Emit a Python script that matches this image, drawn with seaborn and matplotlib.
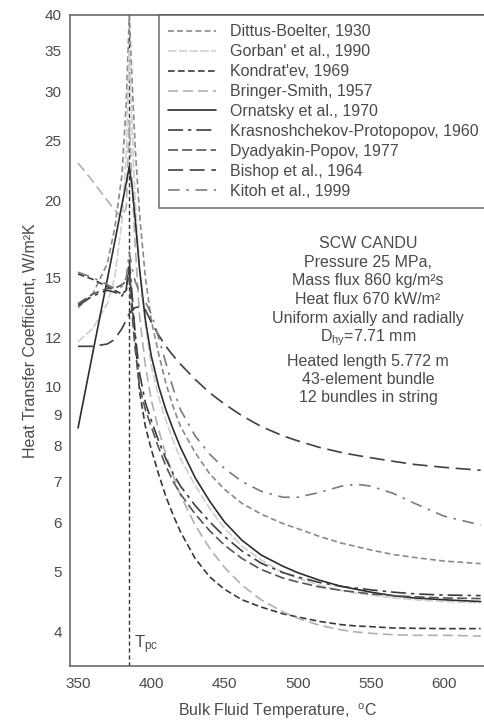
import pandas as pd
import matplotlib
matplotlib.use("Agg")
import matplotlib.pyplot as plt
import seaborn as sns

# Bulk fluid temperature, degC
temperature = [350, 360, 370, 375, 380, 383, 385, 387, 389, 392, 396,
               400, 405, 410, 415, 420, 430, 440, 450, 462, 475,
               490, 500, 515, 530, 540, 550, 565, 580, 600, 625]

# Heat transfer coefficient, kW/m2K, per correlation
dittus_boelter = [13.4, 14.1, 15.8, 18.0, 22.0, 29.0, 40.0, 31.0, 24.5, 19.0, 15.0,
                  12.8, 11.3, 10.1, 9.25, 8.6, 7.8, 7.2, 6.8, 6.45, 6.2,
                  5.98, 5.87, 5.7, 5.56, 5.49, 5.42, 5.33, 5.27, 5.2, 5.15]
gorban = [11.8, 12.4, 13.6, 15.0, 18.5, 24.0, 35.0, 26.0, 20.0, 15.5, 12.6,
          10.8, 9.6, 8.8, 8.15, 7.62, 6.9, 6.32, 5.88, 5.5, 5.22,
          4.98, 4.88, 4.75, 4.66, 4.61, 4.58, 4.53, 4.5, 4.47, 4.45]
kondratev = [15.2, 14.9, 14.5, 14.3, 14.1, 14.3, 15.5, 13.5, 12.0, 9.8, 8.6,
             7.9, 7.2, 6.62, 6.17, 5.8, 5.25, 4.9, 4.68, 4.5, 4.38,
             4.27, 4.22, 4.15, 4.1, 4.08, 4.07, 4.05, 4.045, 4.04, 4.04]
bringer_smith = [23.0, 21.5, 20.0, 19.3, 18.8, 19.5, 27.0, 21.0, 17.0, 13.0, 10.8,
                 9.5, 8.5, 7.75, 7.15, 6.65, 5.95, 5.45, 5.08, 4.75, 4.5,
                 4.3, 4.2, 4.09, 4.02, 3.99, 3.97, 3.95, 3.94, 3.94, 3.93]
ornatsky = [8.55, 11.3, 14.9, 17.1, 19.7, 21.4, 22.7, 21.0, 18.7, 15.5, 12.8,
            11.2, 10.0, 9.15, 8.5, 7.95, 7.1, 6.5, 6.02, 5.62, 5.32,
            5.1, 4.98, 4.84, 4.73, 4.68, 4.63, 4.57, 4.53, 4.5, 4.47]
krasnoshchekov = [13.5, 14.0, 14.3, 14.2, 14.0, 14.4, 16.0, 14.0, 12.2, 10.5, 9.4,
                  8.8, 8.15, 7.62, 7.2, 6.88, 6.4, 6.02, 5.7, 5.4, 5.16,
                  4.98, 4.9, 4.8, 4.73, 4.7, 4.67, 4.63, 4.6, 4.58, 4.57]
dyadyakin = [13.6, 14.1, 14.4, 14.4, 14.6, 14.8, 15.0, 13.0, 11.5, 10.0, 9.15,
             8.6, 7.95, 7.42, 7.0, 6.68, 6.2, 5.82, 5.52, 5.25, 5.04,
             4.88, 4.81, 4.72, 4.66, 4.63, 4.6, 4.57, 4.55, 4.53, 4.52]
bishop = [11.6, 11.6, 11.7, 11.9, 12.4, 12.8, 13.1, 13.3, 13.4, 13.45, 13.3,
          12.7, 12.1, 11.6, 11.2, 10.85, 10.25, 9.75, 9.35, 8.95, 8.6,
          8.3, 8.15, 7.95, 7.8, 7.72, 7.65, 7.55, 7.46, 7.38, 7.3]
kitoh = [15.3, 15.0, 14.6, 14.4, 14.5, 15.0, 16.5, 15.5, 14.8, 14.2, 13.7,
         13.1, 12.0, 10.9, 9.9, 9.15, 8.3, 7.75, 7.35, 7.0, 6.75,
         6.6, 6.6, 6.72, 6.88, 6.93, 6.88, 6.7, 6.45, 6.15, 5.95]

labels = ["Dittus-Boelter, 1930", "Gorban' et al., 1990", "Kondrat'ev, 1969",
          "Bringer-Smith, 1957", "Ornatsky et al., 1970",
          "Krasnoshchekov-Protopopov, 1960", "Dyadyakin-Popov, 1977",
          "Bishop et al., 1964", "Kitoh et al., 1999"]
series = [dittus_boelter, gorban, kondratev, bringer_smith, ornatsky,
          krasnoshchekov, dyadyakin, bishop, kitoh]

t_pc = 385
y_ticks = [4, 5, 6, 7, 8, 9, 10, 12, 15, 20, 25, 30, 35, 40]
x_ticks = [350, 400, 450, 500, 550, 600]

info_lines = ["SCW CANDU", "Pressure 25 MPa,", "Mass flux 860 kg/m\u00b2s",
              "Heat flux 670 kW/m\u00b2", "Uniform axially and radially",
              "D$_{hy}$=7.71 mm", "Heated length 5.772 m",
              "43-element bundle", "12 bundles in string"]

df = pd.concat(
    [pd.DataFrame({"T": temperature, "h": vals, "corr": lab}) for lab, vals in zip(labels, series)],
    ignore_index=True)

colors = {
    labels[0]: "#8a8a8a",
    labels[1]: "#cfcfcf",
    labels[2]: "#3a3a3a",
    labels[3]: "#b0b0b0",
    labels[4]: "#2e2e2e",
    labels[5]: "#3c3c3c",
    labels[6]: "#555555",
    labels[7]: "#404040",
    labels[8]: "#7a7a7a",
}
dashes = {
    labels[0]: (3.5, 2),
    labels[1]: (5, 1.5),
    labels[2]: (4, 2),
    labels[3]: (6, 3),
    labels[4]: "",
    labels[5]: (9, 3, 2, 3),
    labels[6]: (6, 2.5),
    labels[7]: (9, 4),
    labels[8]: (7, 4, 1.5, 4),
}

sns.set_theme(style="white")
plt.rcParams["font.family"] = ["Liberation Sans", "DejaVu Sans"]
plt.rcParams["mathtext.default"] = "regular"

fig = plt.figure(figsize=(4.85, 7.24), dpi=100)
ax = fig.add_axes([0.1443, 0.0808, 0.8557, 0.8985])

sns.lineplot(data=df, x="T", y="h", hue="corr", style="corr", palette=colors,
             dashes=dashes, hue_order=labels, style_order=labels,
             estimator=None, sort=False, linewidth=1.2, ax=ax)

ax.axvline(t_pc, color="#333333", linestyle=(0, (3, 2)), linewidth=1.0, zorder=0)

ax.set_yscale("log")
ax.set_xlim(344.5, 628)
ax.set_ylim(3.52, 40)
ax.set_yticks(y_ticks)
ax.set_yticklabels([str(v) for v in y_ticks])
ax.yaxis.set_minor_locator(matplotlib.ticker.NullLocator())
ax.set_xticks(x_ticks)

text_grey = "#4a4a4a"
for side in ["left", "bottom", "top"]:
    ax.spines[side].set_color("#6a6a6a")
    ax.spines[side].set_linewidth(1.2)
ax.spines["right"].set_visible(False)
ax.tick_params(axis="both", direction="in", length=3, width=0.8, color="#666666",
               labelsize=11, labelcolor=text_grey, pad=6)
ax.tick_params(axis="x", pad=8)

ax.set_xlabel("Bulk Fluid Temperature,  $^o$C", fontsize=11.5, color=text_grey, labelpad=8)
ax.set_ylabel("Heat Transfer Coefficient, W/m\u00b2K", fontsize=11.5, color=text_grey, labelpad=5)

handles, labs = ax.get_legend_handles_labels()
leg = ax.legend(handles, labs, loc="upper left", bbox_to_anchor=(0.2145, 1.0),
                borderaxespad=0, frameon=True, fancybox=False, fontsize=11.5,
                handlelength=3.0, handletextpad=0.85, labelspacing=0.31,
                borderpad=0.58, labelcolor=text_grey)
leg.get_frame().set_edgecolor("#555555")
leg.get_frame().set_linewidth(1.2)

# Operating conditions block, one line at a time for even spacing
info_y_px = [244, 263, 281, 300, 319, 338, 362, 380, 398]
ax_top_px, ax_h_px = 15.0, 650.5
for line, ypx in zip(info_lines, info_y_px):
    ax.text(0.718, 1 - (ypx - ax_top_px) / ax_h_px, line, transform=ax.transAxes,
            ha="center", va="center", fontsize=11.5, color=text_grey)

ax.text(t_pc + 3.5, 3.8, "T$_{pc}$", fontsize=12, color=text_grey, ha="left", va="center")

fig.savefig("out.png", dpi=100)
